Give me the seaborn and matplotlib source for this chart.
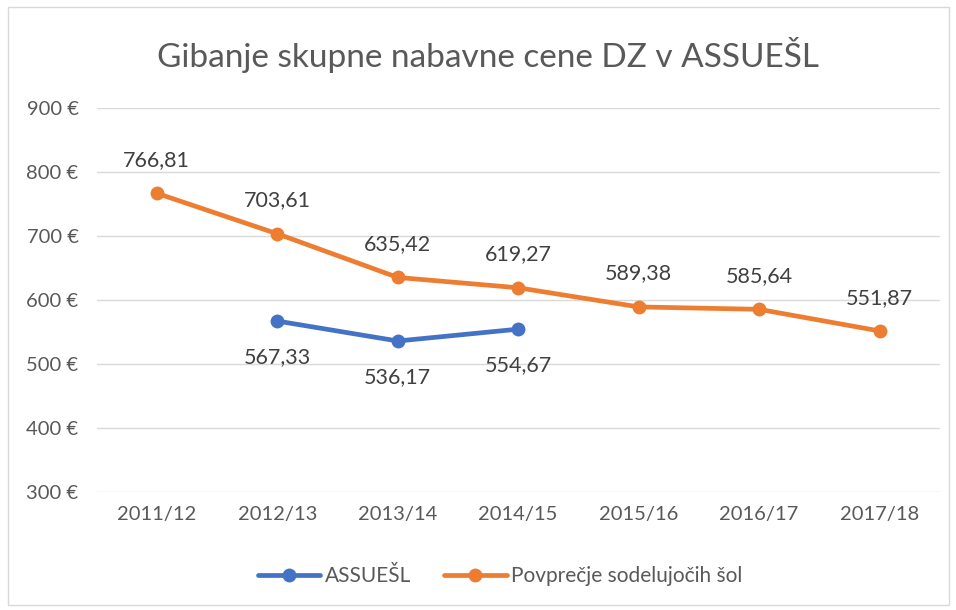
import matplotlib.pyplot as plt
import matplotlib.patches as patches
import seaborn as sns
import pandas as pd

# podatki
leta = ['2011/12', '2012/13', '2013/14', '2014/15', '2015/16', '2016/17', '2017/18']
assuesl = [None, 567.33, 536.17, 554.67, None, None, None]
povprecje = [766.81, 703.61, 635.42, 619.27, 589.38, 585.64, 551.87]
y_ticks = [300, 400, 500, 600, 700, 800, 900]

sns.set_style('white')
plt.rcParams['font.family'] = ['Lato', 'DejaVu Sans']

df = pd.DataFrame({'leto': leta, 'pos': range(len(leta)),
                   'ASSUEŠL': assuesl, 'Povprečje sodelujočih šol': povprecje})

fig = plt.figure(figsize=(9.56, 6.10), dpi=100)
ax = fig.add_axes([0.101, 0.193, 0.882, 0.630])

barve = {'ASSUEŠL': '#4472C4', 'Povprečje sodelujočih šol': '#ED7D31'}
for serija in ['ASSUEŠL', 'Povprečje sodelujočih šol']:
    d = df.dropna(subset=[serija])
    sns.lineplot(x='pos', y=serija, data=d, ax=ax, color=barve[serija],
                 linewidth=3.4, marker='o', markersize=10, markeredgewidth=0,
                 label=serija, legend=False)

# oznake vrednosti
for _, r in df.iterrows():
    v = r['Povprečje sodelujočih šol']
    ax.annotate(f'{v:.2f}'.replace('.', ','), (r['pos'], v), xytext=(0, 24),
                textcoords='offset points', ha='center', va='center',
                fontsize=15.5, color='#404040')
    if pd.notna(r['ASSUEŠL']):
        v = r['ASSUEŠL']
        ax.annotate(f'{v:.2f}'.replace('.', ','), (r['pos'], v), xytext=(0, -26),
                    textcoords='offset points', ha='center', va='center',
                    fontsize=15.5, color='#404040')

ax.set_xlim(-0.5, len(leta) - 0.5)
ax.set_ylim(300, 900)
ax.set_xticks(range(len(leta)))
ax.set_xticklabels(leta)
ax.set_yticks(y_ticks)
ax.set_yticklabels([f'{t} €' for t in y_ticks])
ax.tick_params(axis='both', labelsize=14.5, colors='#595959', length=0)
ax.tick_params(axis='x', pad=10)
ax.tick_params(axis='y', pad=13)
ax.grid(axis='y', color='#D9D9D9', linewidth=1)
ax.set_axisbelow(True)
for s in ax.spines.values():
    s.set_visible(False)
ax.set_xlabel('')
ax.set_ylabel('')

fig.text(0.51, 0.91, 'Gibanje skupne nabavne cene DZ v ASSUEŠL', ha='center',
         va='center', fontsize=24, color='#595959')

h, l = ax.get_legend_handles_labels()
fig.legend(h, l, loc='center', bbox_to_anchor=(0.523, 0.055), ncol=2,
           frameon=False, fontsize=15, labelcolor='#595959',
           handlelength=3.0, handletextpad=0.2, columnspacing=1.6)

fig.patches.append(patches.Rectangle((0.008, 0.008), 0.985, 0.98,
                                     transform=fig.transFigure, fill=False,
                                     edgecolor='#D9D9D9', linewidth=1))

fig.savefig('out.png', dpi=100, facecolor='white')
